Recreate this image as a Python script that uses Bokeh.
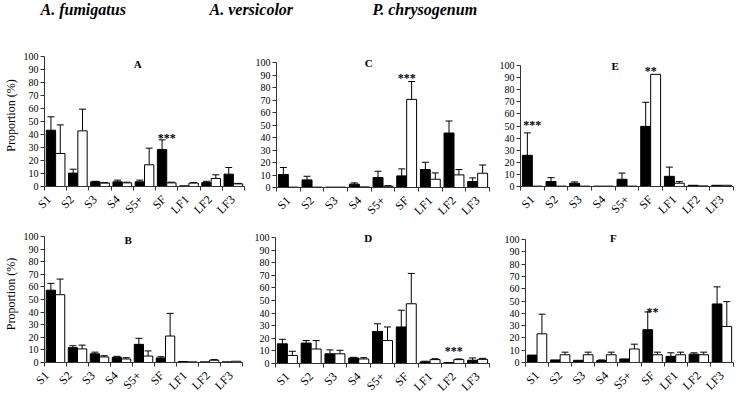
import math
import numpy as np
from bokeh.plotting import figure
from bokeh.models import ColumnDataSource, Whisker, TeeHead, Label, FixedTicker, Range1d, LinearAxis
from bokeh.layouts import column, row
from bokeh.embed import file_html
from bokeh.resources import INLINE
from bokeh.core.properties import value

categories = ["S1", "S2", "S3", "S4", "S5+", "SF", "LF1", "LF2", "LF3"]
species = ["A. fumigatus", "A. versicolor", "P. chrysogenum"]
y_ticks = [0, 10, 20, 30, 40, 50, 60, 70, 80, 90, 100]

# Panel A
A_black = [43.3, 10.3, 3.6, 3.6, 3.6, 28.5, 0.5, 3.0, 9.5]
A_black_sd = [10.3, 3.0, 0.4, 1.3, 1.3, 7.4, 0.0, 1.0, 5.1]
A_white = [25.4, 42.8, 2.6, 2.8, 16.7, 2.8, 2.6, 6.2, 2.0]
A_white_sd = [22.0, 16.7, 0.4, 0.5, 12.8, 0.5, 0.4, 2.8, 0.4]
# Panel C
C_black = [10.4, 6.1, 0.3, 2.7, 8.0, 9.3, 14.4, 43.6, 4.8]
C_black_sd = [5.6, 2.9, 0.0, 1.0, 5.0, 5.6, 5.8, 9.6, 2.9]
C_white = [0.3, 0.3, 0.3, 0.5, 1.0, 70.5, 6.6, 10.1, 11.4]
C_white_sd = [0.0, 0.0, 0.0, 0.0, 0.5, 14.3, 5.1, 4.3, 6.6]
# Panel E
E_black = [25.8, 4.1, 2.7, 0.3, 6.0, 49.7, 8.4, 1.0, 1.0]
E_black_sd = [18.5, 3.2, 1.1, 0.0, 5.1, 19.9, 7.6, 0.0, 0.0]
E_white = [0.3, 0.3, 0.3, 0.3, 0.3, 92.7, 2.7, 0.5, 1.0]
E_white_sd = [0.0, 0.0, 0.0, 0.0, 0.0, 0.0, 1.3, 0.0, 0.0]
# Panel B
B_black = [57.4, 11.8, 6.9, 4.1, 14.4, 3.6, 0.8, 0.5, 0.5]
B_black_sd = [5.4, 1.5, 1.3, 0.8, 4.8, 1.0, 0.0, 0.0, 0.0]
B_white = [53.8, 10.8, 4.4, 2.8, 5.1, 21.0, 0.5, 1.8, 1.0]
B_white_sd = [12.4, 3.0, 1.0, 1.0, 4.1, 18.0, 0.0, 0.5, 0.0]
# Panel D
D_black = [15.6, 16.2, 7.7, 4.4, 25.4, 29.0, 1.3, 0.8, 2.6]
D_black_sd = [3.6, 2.0, 3.1, 0.5, 6.1, 13.3, 0.5, 0.0, 1.8]
D_white = [6.4, 11.5, 7.7, 3.6, 18.2, 47.4, 3.1, 3.1, 3.3]
D_white_sd = [3.3, 6.7, 2.8, 1.0, 10.8, 24.1, 0.7, 0.5, 0.8]
# Panel F
F_black = [6.0, 2.1, 1.8, 1.6, 2.9, 26.7, 5.0, 6.8, 47.6]
F_black_sd = [0.0, 0.0, 0.0, 0.5, 0.0, 14.4, 2.9, 1.1, 13.9]
F_white = [23.3, 6.3, 6.3, 6.3, 11.0, 6.3, 6.3, 6.3, 29.3]
F_white_sd = [16.0, 2.1, 2.1, 2.1, 3.9, 2.1, 2.1, 2.1, 20.2]

# significance marks: (category, text, height)
A_stars = [("SF", "***", 37.5)]
C_stars = [("SF", "***", 88.0)]
E_stars = [("S1", "***", 51.0), ("SF", "**", 95.5)]
B_stars = []
D_stars = [("LF2", "***", 10.0)]
F_stars = [("SF", "**", 41.0)]

FONT = "Liberation Serif"
AXIS_COLOR = "#333333"
TICK_BORDER = 5


def make_panel(letter, black, black_sd, white, white_sd, stars, ylabel,
               width, row_h, bl, br, top100, frame100, letter_x, letter_y):
    n = len(categories)
    centers = [i + 0.5 for i in range(n)]
    bounds = [float(i) for i in range(n + 1)]
    extra = int(round(frame100 * 0.09))
    bt = top100 - extra
    y_end = 100.0 + extra * 100.0 / frame100
    plot_h = bt + frame100 + extra + TICK_BORDER
    p = figure(width=width, height=plot_h, x_range=Range1d(0, n), y_range=Range1d(0, y_end),
               output_backend="svg", toolbar_location=None, x_axis_type=None, y_axis_type=None,
               min_border_left=bl, min_border_right=br, min_border_top=bt,
               min_border_bottom=TICK_BORDER, frame_align=False)
    p.outline_line_color = None
    p.background_fill_color = "white"
    p.border_fill_color = "white"

    # x axis: only the line and the boundary ticks between categories
    xaxis = LinearAxis(ticker=FixedTicker(ticks=[], minor_ticks=bounds))
    xaxis.major_label_standoff = 0
    xaxis.major_tick_line_color = None
    xaxis.major_tick_out = 0
    xaxis.major_tick_in = 0
    xaxis.minor_tick_out = 4
    xaxis.minor_tick_in = 0
    xaxis.minor_tick_line_color = AXIS_COLOR
    xaxis.axis_line_color = AXIS_COLOR
    p.add_layout(xaxis, "below")

    yaxis = LinearAxis(ticker=FixedTicker(ticks=y_ticks), bounds=(0, 100))
    yaxis.major_tick_out = 4
    yaxis.major_tick_in = 0
    yaxis.minor_tick_line_color = None
    yaxis.major_tick_line_color = AXIS_COLOR
    yaxis.axis_line_color = AXIS_COLOR
    yaxis.major_label_standoff = 2
    yaxis.major_label_text_font = FONT
    yaxis.major_label_text_font_size = "10px"
    yaxis.major_label_text_color = "black"
    if ylabel:
        yaxis.axis_label = ylabel
        yaxis.axis_label_text_font = FONT
        yaxis.axis_label_text_font_size = "12px"
        yaxis.axis_label_text_font_style = "normal"
        yaxis.axis_label_text_color = "black"
        yaxis.axis_label_standoff = 3
    p.add_layout(yaxis, "left")

    x = np.array(centers)
    bw = 0.42
    for vals, sds, dx, fill in ((black, black_sd, -bw / 2, "black"), (white, white_sd, bw / 2, "white")):
        vals = np.array(vals, dtype=float)
        sds = np.array(sds, dtype=float)
        src = ColumnDataSource(dict(x=x + dx, top=vals))
        p.vbar(x="x", top="top", bottom=0, width=bw, source=src,
               fill_color=fill, line_color="black", line_width=1)
        mask = sds > 0
        esrc = ColumnDataSource(dict(x=(x + dx)[mask], top=vals[mask], up=(vals + sds)[mask]))
        w = Whisker(source=esrc, base="x", upper="up", lower="top",
                    upper_head=TeeHead(size=7, line_color="black", line_width=1),
                    lower_head=None, line_color="black", line_width=1)
        p.add_layout(w)

    for cat, txt, yv in stars:
        i = categories.index(cat)
        p.add_layout(Label(x=i + 0.5, y=yv, text=txt, text_align="center", text_baseline="middle",
                           text_font=FONT, text_font_size="12px", text_font_style="bold",
                           text_color="black"))
    p.add_layout(Label(x=letter_x, y=letter_y, text=letter, text_align="center", text_baseline="middle",
                       text_font=FONT, text_font_size="11px", text_font_style="bold", text_color="black"))

    # category labels strip under the axis
    strip_h = row_h - plot_h
    cw = (width - bl - br) / n
    s = figure(width=width, height=strip_h,
               x_range=Range1d(-bl / cw, n + br / cw), y_range=Range1d(-strip_h, 0),
               output_backend="svg", toolbar_location=None, x_axis_type=None, y_axis_type=None,
               min_border=0, min_border_left=0, min_border_right=0, min_border_top=0,
               min_border_bottom=0, frame_align=False)
    s.outline_line_color = None
    lsrc = ColumnDataSource(dict(x=x, y=[-6] * n, t=categories))
    s.text(x="x", y="y", text="t", source=lsrc, angle=math.pi / 4, text_align="right",
           text_baseline="middle", text_font=value(FONT), text_font_size="12px", text_color="black")
    return column(p, s)


# title strip
TH = 22
t = figure(width=734, height=TH, x_range=Range1d(0, 734), y_range=Range1d(0, TH),
           output_backend="svg", toolbar_location=None, x_axis_type=None, y_axis_type=None,
           min_border=0, min_border_left=0, min_border_right=0, min_border_top=0,
           min_border_bottom=0, frame_align=False)
t.outline_line_color = None
tsrc = ColumnDataSource(dict(x=[40, 209, 372], y=[TH - 9] * 3, t=species))
t.text(x="x", y="y", text="t", source=tsrc, text_align="left", text_baseline="middle",
       text_font=value(FONT), text_font_size="16px", text_font_style="bold italic", text_color="black")

R1, R2 = 196, 176
pA = make_panel("A", A_black, A_black_sd, A_white, A_white_sd, A_stars, "Proportion (%)",
                248, R1, 37, 4, 34, 130, 4.2, 94)
pC = make_panel("C", C_black, C_black_sd, C_white, C_white_sd, C_stars, None,
                246, R1, 28, 5, 40, 125, 3.9, 100)
pE = make_panel("E", E_black, E_black_sd, E_white, E_white_sd, E_stars, None,
                240, R1, 26, 1, 43, 121, 4.0, 100)
pB = make_panel("B", B_black, B_black_sd, B_white, B_white_sd, B_stars, "Proportion (%)",
                248, R2, 35, 6, 18, 126, 3.8, 97)
pD = make_panel("D", D_black, D_black_sd, D_white, D_white_sd, D_stars, None,
                246, R2, 27, 5, 19, 126, 3.9, 100)
pF = make_panel("F", F_black, F_black_sd, F_white, F_white_sd, F_stars, None,
                240, R2, 31, 1, 21, 123, 3.8, 101)

layout = column(t, row(pA, pC, pE), row(pB, pD, pF))
open("out.html", "w").write(file_html(layout, INLINE))
